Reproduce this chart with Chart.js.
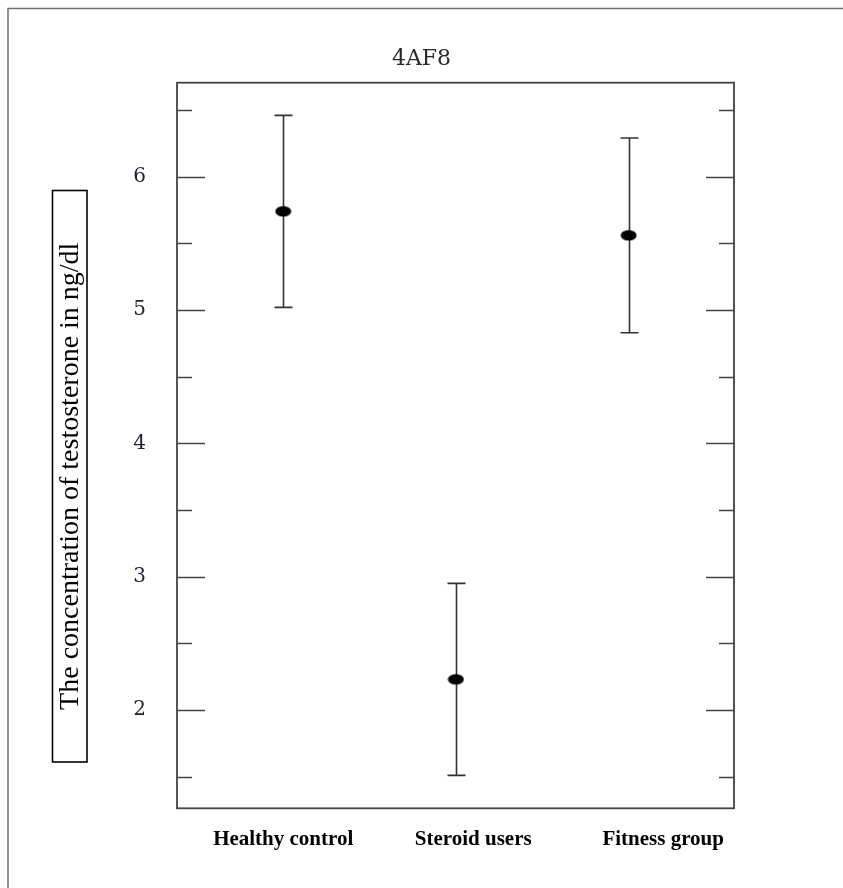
<!DOCTYPE html>
<html>
<head>
<meta charset="utf-8">
<script src="https://cdn.jsdelivr.net/npm/chart.js@4.4.1/dist/chart.umd.min.js"></script>
<style>
  html, body { margin: 0; padding: 0; background: #fff; }
  #wrap { width: 843px; height: 888px; position: relative; }
</style>
</head>
<body>
<div id="wrap"><canvas id="c" width="843" height="888"></canvas></div>
<script>
// ---- data ----
const categories = ['Healthy control', 'Steroid users', 'Fitness group'];
const means = [5.74, 2.23, 5.56];
const lowerCI = [5.02, 1.51, 4.83];
const upperCI = [6.46, 2.95, 6.29];
const yTickValues = [1.5, 2, 2.5, 3, 3.5, 4, 4.5, 5, 5.5, 6, 6.5];
const chartTitle = '4AF8';
const yAxisTitle = 'The concentration of testosterone in ng/dl';

// ---- layout constants (not data) ----
const X_MIN = 0.385, X_MAX = 3.61;
const Y_MIN = 1.263, Y_MAX = 6.705;
const LABEL_SHIFT = [0.0, 0.1, 0.2];
const YBOX = { x: 52.5, y: 190.5, w: 34.5, h: 571.5 };

// ellipse point marker
const dot = document.createElement('canvas');
dot.width = 17; dot.height = 12;
(function () {
  const g = dot.getContext('2d');
  g.fillStyle = '#000';
  g.beginPath();
  g.ellipse(8.5, 6, 8, 5.2, 0, 0, Math.PI * 2);
  g.fill();
})();

const decorPlugin = {
  id: 'decor',
  beforeDraw(chart) {
    const ctx = chart.ctx;
    ctx.save();
    // outer frame (top + left)
    ctx.strokeStyle = '#6f6f6f';
    ctx.lineWidth = 1.5;
    ctx.beginPath();
    ctx.moveTo(8, 888); ctx.lineTo(8, 8.5); ctx.lineTo(843, 8.5);
    ctx.stroke();
    // box around y-axis title
    ctx.strokeStyle = '#000';
    ctx.lineWidth = 1.6;
    ctx.strokeRect(YBOX.x, YBOX.y, YBOX.w, YBOX.h);
    // y-axis title text, centred in its box
    ctx.translate(YBOX.x + YBOX.w / 2 + 1, YBOX.y + YBOX.h / 2);
    ctx.rotate(-Math.PI / 2);
    ctx.fillStyle = '#000';
    ctx.font = '28px "Liberation Serif"';
    ctx.textAlign = 'center';
    ctx.textBaseline = 'middle';
    ctx.fillText(yAxisTitle, 0, 0);
    ctx.restore();
  },
  beforeDatasetsDraw(chart) {
    const ctx = chart.ctx;
    const a = chart.chartArea;
    const ys = chart.scales.y;
    ctx.save();
    // plot box
    ctx.strokeStyle = '#444';
    ctx.lineWidth = 1.8;
    ctx.strokeRect(a.left, a.top, a.right - a.left, a.bottom - a.top);
    // inward ticks on both sides
    ctx.lineWidth = 1.5;
    ys.ticks.forEach(t => {
      const y = Math.round(ys.getPixelForValue(t.value)) + 0.5;
      const len = Number.isInteger(t.value) ? 28 : 15;
      ctx.beginPath();
      ctx.moveTo(a.left, y); ctx.lineTo(a.left + len, y);
      ctx.moveTo(a.right, y); ctx.lineTo(a.right - len, y);
      ctx.stroke();
    });
    // error bars
    const meta = chart.getDatasetMeta(0);
    ctx.strokeStyle = '#333';
    ctx.lineWidth = 1.6;
    meta.data.forEach((pt, i) => {
      const x = Math.round(pt.x) + 0.5;
      const yl = ys.getPixelForValue(lowerCI[i]);
      const yu = ys.getPixelForValue(upperCI[i]);
      ctx.beginPath();
      ctx.moveTo(x, yl); ctx.lineTo(x, yu);
      ctx.moveTo(x - 9, yl); ctx.lineTo(x + 9, yl);
      ctx.moveTo(x - 9, yu); ctx.lineTo(x + 9, yu);
      ctx.stroke();
    });
    ctx.restore();
  }
};

new Chart(document.getElementById('c'), {
  type: 'scatter',
  data: {
    datasets: [{
      data: means.map((m, i) => ({ x: i + 1, y: m })),
      pointStyle: dot,
      pointRadius: 8,
      pointHoverRadius: 8,
      showLine: false
    }]
  },
  options: {
    responsive: false,
    animation: false,
    events: [],
    layout: { padding: 0 },
    plugins: {
      legend: { display: false },
      tooltip: { enabled: false },
      title: {
        display: true,
        text: chartTitle,
        color: '#2a2a2a',
        font: { family: 'DejaVu Serif', size: 22, weight: 'normal' },
        padding: { top: 46, bottom: 10.3 }
      }
    },
    scales: {
      x: {
        type: 'linear', display: false, min: X_MIN, max: X_MAX
      },
      xl: {
        type: 'linear', position: 'bottom', min: X_MIN, max: X_MAX,
        grid: { display: false }, border: { display: false },
        afterBuildTicks(s) {
          s.ticks = categories.map((c, i) => ({ value: i + 1 + LABEL_SHIFT[i] }));
        },
        afterFit(s) { s.height = 79.7; },
        ticks: {
          autoSkip: false, maxRotation: 0, padding: 11, color: '#000',
          font: { family: 'Liberation Serif', size: 21, weight: 'bold' },
          callback: (v, i) => categories[i]
        }
      },
      y: {
        type: 'linear', position: 'left', min: Y_MIN, max: Y_MAX,
        grid: { display: false }, border: { display: false },
        afterBuildTicks(s) { s.ticks = yTickValues.map(v => ({ value: v })); },
        afterFit(s) { s.width = 177; },
        ticks: {
          autoSkip: false, padding: 23, color: '#1c2233',
          font: { family: 'DejaVu Serif', size: 20 },
          callback: v => Number.isInteger(v) ? String(v) : ''
        },
        title: { display: false, text: yAxisTitle }
      },
      yr: {
        type: 'linear', position: 'right', display: true,
        grid: { display: false }, border: { display: false },
        ticks: { display: false },
        afterFit(s) { s.width = 109; }
      }
    }
  },
  plugins: [decorPlugin]
});
</script>
</body>
</html>
